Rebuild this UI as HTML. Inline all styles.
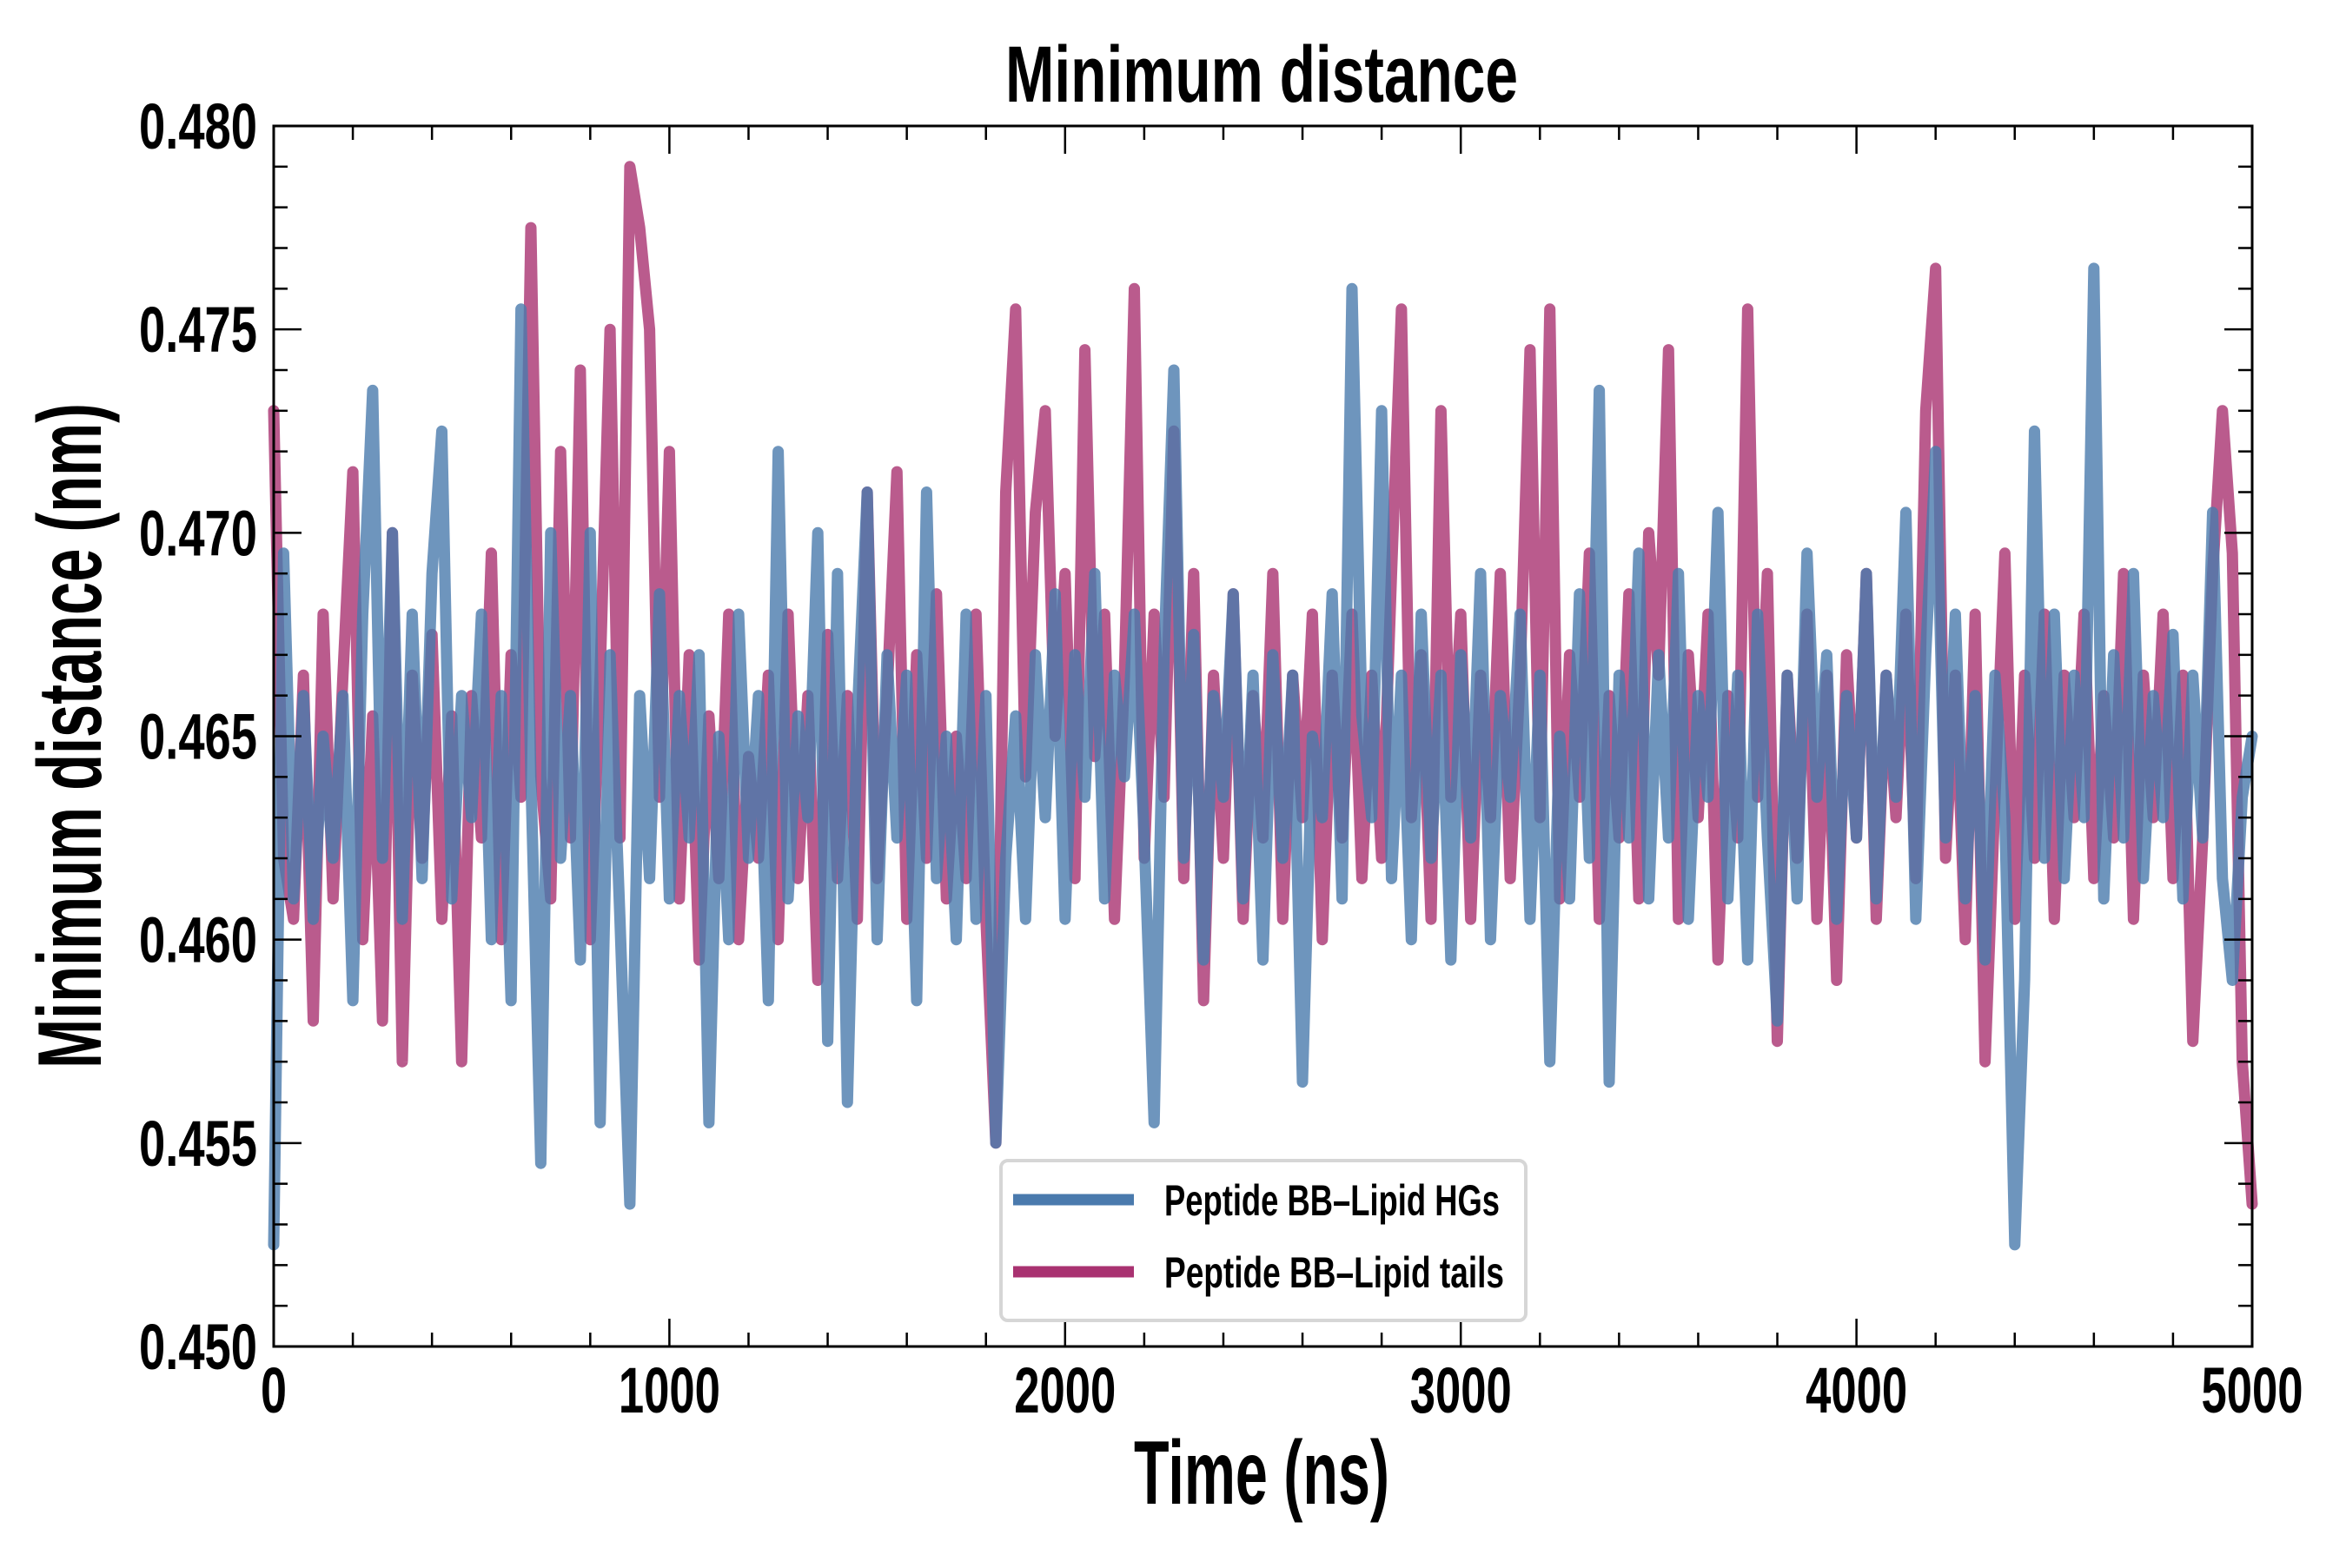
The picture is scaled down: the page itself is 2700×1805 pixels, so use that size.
<!DOCTYPE html>
<html><head><meta charset="utf-8">
<style>
html,body{margin:0;padding:0;background:#fff;}
svg text{font-family:"Liberation Sans Narrow","Liberation Sans",sans-serif;font-weight:bold;fill:#000;}
</style></head>
<body>
<svg id="chart" width="2700" height="1800" viewBox="0 0 2700 1800" xmlns="http://www.w3.org/2000/svg">
<rect width="2700" height="1800" fill="#fff"/>
<text x="1452" y="117" font-size="92" text-anchor="middle" textLength="590" lengthAdjust="spacingAndGlyphs">Minimum distance</text>
<g id="series"></g>
<g id="axes"></g>
<text x="1452" y="1731" font-size="104" text-anchor="middle" textLength="294" lengthAdjust="spacingAndGlyphs">Time (ns)</text>
<text transform="translate(116,847) rotate(-90)" font-size="104" text-anchor="middle" textLength="766" lengthAdjust="spacingAndGlyphs">Minimum distance (nm)</text>
<g>
<rect x="1152" y="1336" width="604" height="184" rx="8" fill="#fff" stroke="#d6d6d6" stroke-width="4"/>
<line x1="1166" y1="1381" x2="1305" y2="1381" stroke="#4a7aad" stroke-width="13"/>
<text x="1340" y="1399" font-size="50" textLength="386" lengthAdjust="spacingAndGlyphs">Peptide BB–Lipid HGs</text>
<line x1="1166" y1="1464" x2="1305" y2="1464" stroke="#a93271" stroke-width="13"/>
<text x="1340" y="1482" font-size="50" textLength="391" lengthAdjust="spacingAndGlyphs">Peptide BB–Lipid tails</text>
</g>
</svg>
<script>
const hgValues = [
0.4525,0.4695,0.461,0.466,0.4605,0.465,0.462,0.466,0.4585,0.468,
0.4735,0.462,0.470,0.4605,0.468,0.4615,0.469,0.4725,0.461,0.466,
0.463,0.468,0.460,0.466,0.4585,0.4755,0.464,0.4545,0.470,0.462,
0.466,0.4595,0.470,0.4555,0.467,0.4605,0.4535,0.466,0.4615,0.4685,
0.461,0.466,0.4625,0.467,0.4555,0.465,0.460,0.468,0.462,0.466,
0.4585,0.472,0.461,0.4655,0.463,0.470,0.4575,0.469,0.456,0.4655,
0.471,0.460,0.467,0.4625,0.4665,0.4585,0.471,0.4615,0.465,0.460,
0.468,0.4605,0.466,0.455,0.462,0.4655,0.4605,0.467,0.463,0.4685,
0.4605,0.467,0.4635,0.469,0.461,0.4665,0.464,0.468,0.4625,0.4555,
0.467,0.474,0.462,0.4675,0.4595,0.466,0.4635,0.4685,0.461,0.4665,
0.4595,0.467,0.462,0.4665,0.4565,0.465,0.463,0.4685,0.461,0.476,
0.4655,0.463,0.473,0.4615,0.4665,0.460,0.468,0.462,0.4665,0.4595,
0.467,0.4625,0.469,0.460,0.466,0.4635,0.468,0.4605,0.4665,0.457,
0.465,0.461,0.4685,0.462,0.4735,0.4565,0.4665,0.4625,0.4695,0.461,
0.467,0.4625,0.469,0.4605,0.466,0.4635,0.4705,0.461,0.4665,0.4595,
0.468,0.4625,0.458,0.4665,0.461,0.4695,0.4635,0.467,0.4605,0.466,
0.4625,0.469,0.461,0.4665,0.4635,0.4705,0.4605,0.467,0.472,0.4625,
0.468,0.461,0.466,0.4595,0.4665,0.463,0.4525,0.459,0.4725,0.462,
0.468,0.4615,0.4665,0.463,0.4765,0.461,0.467,0.4625,0.469,0.4615,
0.466,0.463,0.4675,0.461,0.4665,0.4625,0.4705,0.4615,0.459,0.4635,
0.465];
const tailValues = [
0.473,0.462,0.4605,0.4665,0.458,0.468,0.461,0.4665,0.4715,0.460,
0.4655,0.458,0.470,0.457,0.4665,0.462,0.4675,0.4605,0.4655,0.457,
0.466,0.4625,0.4695,0.460,0.467,0.4635,0.4775,0.464,0.461,0.472,
0.4625,0.474,0.460,0.4665,0.475,0.4625,0.479,0.4775,0.475,0.4635,
0.472,0.461,0.467,0.4595,0.4655,0.4615,0.468,0.460,0.4645,0.462,
0.4665,0.460,0.468,0.4615,0.466,0.459,0.4675,0.4615,0.466,0.4605,
0.471,0.4615,0.466,0.4715,0.4605,0.467,0.462,0.4685,0.461,0.465,
0.4615,0.468,0.4605,0.455,0.471,0.4755,0.464,0.4705,0.473,0.465,
0.469,0.4615,0.4745,0.4645,0.468,0.4605,0.4665,0.476,0.462,0.468,
0.4635,0.4725,0.4615,0.469,0.4585,0.4665,0.462,0.4685,0.4605,0.466,
0.4625,0.469,0.4605,0.4665,0.463,0.468,0.460,0.4665,0.4625,0.468,
0.4615,0.4665,0.462,0.469,0.4755,0.463,0.467,0.4605,0.473,0.4635,
0.468,0.4605,0.4665,0.463,0.469,0.4615,0.4665,0.4745,0.463,0.4755,
0.461,0.467,0.4635,0.4695,0.4605,0.466,0.4625,0.4685,0.461,0.470,
0.4665,0.4745,0.4605,0.467,0.463,0.468,0.4595,0.466,0.4625,0.4755,
0.4635,0.469,0.4575,0.4665,0.462,0.468,0.4605,0.4665,0.459,0.467,
0.4625,0.469,0.4605,0.4665,0.463,0.468,0.4615,0.473,0.4765,0.462,
0.4665,0.460,0.468,0.457,0.4635,0.4695,0.4605,0.4665,0.462,0.468,
0.4605,0.4665,0.463,0.468,0.4615,0.466,0.4625,0.469,0.4605,0.4665,
0.463,0.468,0.4615,0.4665,0.4575,0.4625,0.469,0.473,0.4695,0.457,
0.4535];
const timeStep = 25;
const xTickLabels = ["0","1000","2000","3000","4000","5000"];
const yTickLabels = ["0.450","0.455","0.460","0.465","0.470","0.475","0.480"];

const L=315,R=2592,T=145,B=1550;
const xMin=0,xMax=5000,yMin=0.450,yMax=0.480;
const xs=v=>L+(v-xMin)/(xMax-xMin)*(R-L);
const ys=v=>B-(v-yMin)/(yMax-yMin)*(B-T);
const NS="http://www.w3.org/2000/svg";
function mk(tag,attrs,parent){const e=document.createElementNS(NS,tag);for(const k in attrs)e.setAttribute(k,attrs[k]);parent.appendChild(e);return e;}

const series=document.getElementById('series');
function drawLine(vals,color,name){
  const d=vals.map((v,i)=>(i?'L':'M')+xs(i*timeStep).toFixed(1)+' '+ys(v).toFixed(1)).join(' ');
  const p=mk('path',{d:d,fill:'none',stroke:color,'stroke-width':13,'stroke-linejoin':'round','stroke-linecap':'round','stroke-opacity':0.8},series);
  
  
}
drawLine(tailValues,'#a93271','series-lipid-tails');
drawLine(hgValues,'#4a7aad','series-lipid-hgs');

const axes=document.getElementById('axes');
const frame=mk('rect',{x:L,y:T,width:R-L,height:B-T,fill:'none',stroke:'#000','stroke-width':3},axes);


for(let v=0;v<=5000;v+=200){
  const major=v%1000===0, len=major?32:16, x=xs(v);
  mk('line',{x1:x,y1:B,x2:x,y2:B-len,stroke:'#000','stroke-width':2.5},axes);
  mk('line',{x1:x,y1:T,x2:x,y2:T+len,stroke:'#000','stroke-width':2.5},axes);
}
xTickLabels.forEach(s=>{
  const w=s.length===1?30:117;
  const t=mk('text',{x:xs(+s),y:B+76,'font-size':74,'text-anchor':'middle',textLength:w,lengthAdjust:'spacingAndGlyphs'},axes);
  t.textContent=s;
  
  
});
for(let k=0;k<=30;k++){
  const v=yMin+k*0.001, major=k%5===0, len=major?32:16, y=ys(v);
  mk('line',{x1:L,y1:y,x2:L+len,y2:y,stroke:'#000','stroke-width':2.5},axes);
  mk('line',{x1:R,y1:y,x2:R-len,y2:y,stroke:'#000','stroke-width':2.5},axes);
}
yTickLabels.forEach(s=>{
  const t=mk('text',{x:L-19,y:ys(+s)+26,'font-size':74,'text-anchor':'end',textLength:136,lengthAdjust:'spacingAndGlyphs'},axes);
  t.textContent=s;
  
  
});
</script>
</body></html>
